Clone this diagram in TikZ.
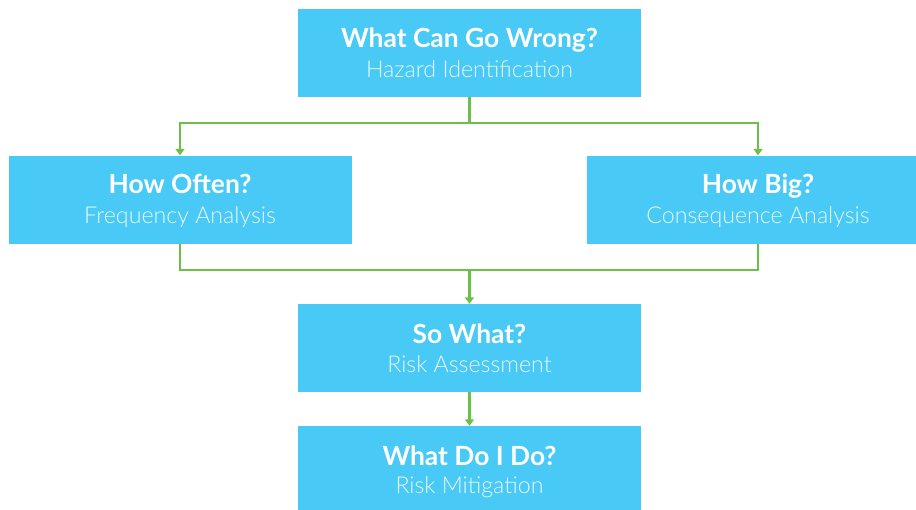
\documentclass[tikz,border=0pt]{standalone}
\usepackage{fontspec}
\setmainfont{Lato}
\newfontfamily\lightfont{Lato Light}
\usetikzlibrary{arrows.meta}
\definecolor{boxblue}{HTML}{48C9F6}
\definecolor{linegreen}{HTML}{6CC04A}
\definecolor{subwhite}{HTML}{EAF8FE}
\tikzset{
  x=1pt, y=-1pt,
  qbox/.style={fill=boxblue, draw=none, minimum width=343pt, minimum height=88pt, inner sep=0pt, anchor=center},
  qtitle/.style={anchor=base, text=white, font=\fontsize{26.4}{30}\selectfont\bfseries, inner sep=0pt},
  qsub/.style={anchor=base, text=subwhite, font=\fontsize{23.2}{27}\lightfont, inner sep=0pt},
  conn/.style={draw=linegreen, line width=2.6pt},
  arr/.style={conn, -{Triangle[width=9pt,length=6.5pt]}}
}
\begin{document}
\begin{tikzpicture}
\path[use as bounding box] (0,0) rectangle (916,509);
\clip (0,0) rectangle (916,509);
% boxes
\node[qbox] (A) at (469.5,53) {};
\node[qbox] (B) at (180,199.5) {};
\node[qbox] (C) at (758,199.5) {};
\node[qbox] (D) at (469.5,348) {};
\node[qbox] (E) at (469.5,470) {};
% texts
\node[qtitle] (At) at (469.5,47) {What Can Go Wrong?};
\node[qsub] (As) at (469.5,77) {Hazard Identification};
\node[qtitle] (Bt) at (180,193) {How Often?};
\node[qsub] (Bs) at (180,223) {Frequency Analysis};
\node[qtitle] (Ct) at (758,193) {How Big?};
\node[qsub] (Cs) at (758,223) {Consequence Analysis};
\node[qtitle] (Dt) at (469.5,343) {So What?};
\node[qsub] (Ds) at (469.5,372) {Risk Assessment};
\node[qtitle] (Et) at (469.5,465) {What Do I Do?};
\node[qsub] (Es) at (469.5,493) {Risk Mitigation};
% connectors
\coordinate (j1) at (469.5,123);
\coordinate (j2) at (469.5,270);
\draw[conn] (A.south) -- (j1);
\draw[arr] (j1) -| (B.north);
\draw[arr] (j1) -| (C.north);
\draw[conn] (B.south) |- (j2);
\draw[conn] (C.south) |- (j2);
\draw[arr] (j2) -- (D.north);
\draw[arr] (D.south) -- (E.north);
\end{tikzpicture}
\end{document}
